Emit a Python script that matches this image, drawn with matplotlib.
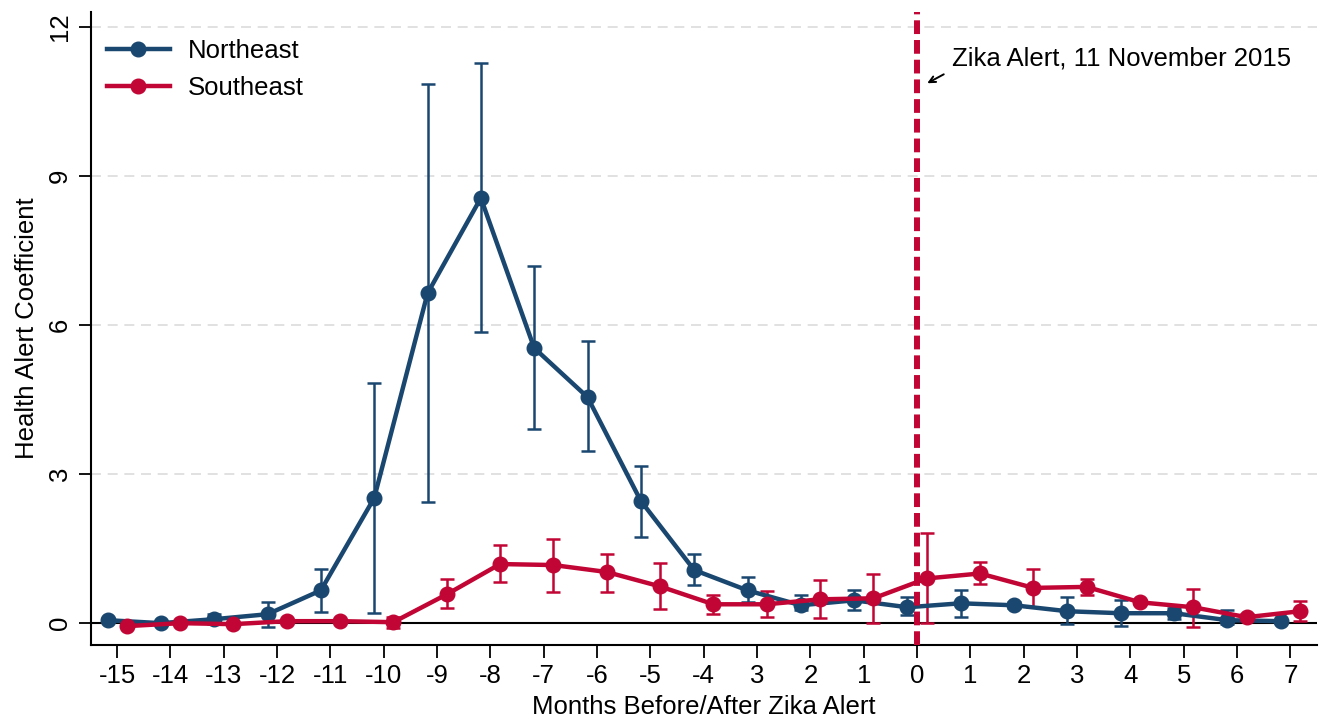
import matplotlib
matplotlib.use("Agg")
import matplotlib.pyplot as plt
import numpy as np

plt.rcParams['font.family'] = ['Liberation Sans', 'DejaVu Sans']

months = list(range(-15, 8))
tick_labels = ['-15', '-14', '-13', '-12', '-11', '-10', '-9', '-8', '-7', '-6',
               '-5', '-4', '3', '2', '1', '0', '1', '2', '3', '4', '5', '6', '7']

# coefficients and 95% bounds
ne_coef = [0.06, 0.00, 0.08, 0.18, 0.66, 2.52, 6.64, 8.56, 5.54, 4.55, 2.46, 1.07,
           0.66, 0.36, 0.46, 0.32, 0.40, 0.36, 0.24, 0.20, 0.20, 0.06, 0.04]
ne_low = [0.02, -0.03, -0.02, -0.08, 0.22, 0.20, 2.44, 5.86, 3.90, 3.46, 1.73, 0.77,
          0.42, 0.26, 0.26, 0.16, 0.12, 0.30, -0.02, -0.06, 0.08, -0.02, 0.01]
ne_high = [0.10, 0.03, 0.18, 0.42, 1.10, 4.83, 10.85, 11.27, 7.19, 5.68, 3.16, 1.39,
           0.93, 0.56, 0.66, 0.52, 0.66, 0.42, 0.52, 0.46, 0.30, 0.26, 0.07]

se_coef = [-0.06, 0.00, -0.02, 0.04, 0.04, 0.02, 0.58, 1.19, 1.17, 1.03, 0.74, 0.38,
           0.38, 0.48, 0.50, 0.90, 1.00, 0.71, 0.73, 0.42, 0.32, 0.12, 0.24]
se_low = [-0.08, -0.02, -0.04, 0.02, 0.02, -0.10, 0.30, 0.82, 0.62, 0.62, 0.28, 0.18,
          0.12, 0.10, 0.00, 0.00, 0.78, 0.32, 0.56, 0.38, -0.08, 0.06, 0.04]
se_high = [-0.04, 0.02, 0.00, 0.06, 0.06, 0.12, 0.88, 1.57, 1.69, 1.39, 1.21, 0.56,
           0.64, 0.87, 0.99, 1.81, 1.23, 1.10, 0.88, 0.46, 0.68, 0.18, 0.44]

navy = '#1a476f'
cranberry = '#c10534'
shift = 0.18
fs = 18.5

fig = plt.figure(figsize=(13.25, 7.19), dpi=100)
ax = fig.add_axes([0.0687, 0.1029, 0.9253, 0.8801])

x = np.array(months, dtype=float)

for y in [3, 6, 9, 12]:
    ax.axhline(y, color='#dcdcdc', lw=1.2, ls=(0, (6, 4)), zorder=0)
ax.axhline(0, color='black', lw=1.5, zorder=1)

for xs, coef, lo, hi, col, name in [
        (x - shift, ne_coef, ne_low, ne_high, navy, 'Northeast'),
        (x + shift, se_coef, se_low, se_high, cranberry, 'Southeast')]:
    coef = np.array(coef)
    yerr = [coef - np.array(lo), np.array(hi) - coef]
    ax.errorbar(xs, coef, yerr=yerr, fmt='none', ecolor=col, elinewidth=1.8,
                capsize=5, capthick=1.8, zorder=2)
    ax.plot(xs, coef, color=col, lw=3.2, marker='o', ms=10.5, label=name, zorder=3)

ax.axvline(0, color=cranberry, lw=4.3, ls=(0, (2.3, 1.0)), zorder=4)

# event note with a short pointer to the alert line
ax.text(0.66, 11.37, 'Zika Alert, 11 November 2015', fontsize=fs,
        va='center', ha='left')
ax.annotate('', xy=(0.19, 10.87), xytext=(0.50, 11.05),
            arrowprops=dict(arrowstyle='->,head_length=0.45,head_width=0.22',
                            color='black', lw=1.4, shrinkA=0, shrinkB=0))

ax.set_xlim(-15.49, 7.5)
ax.set_ylim(-0.44, 12.3)
ax.set_xticks(months)
ax.set_xticklabels(tick_labels)
ax.set_yticks([0, 3, 6, 9, 12])
ax.set_yticklabels(['0', '3', '6', '9', '12'], rotation=90, va='center')
ax.tick_params(axis='both', labelsize=fs, length=9, width=1.3, direction='out')
ax.tick_params(axis='x', pad=5)
ax.tick_params(axis='y', pad=5)

for side in ['top', 'right']:
    ax.spines[side].set_visible(False)
for side in ['left', 'bottom']:
    ax.spines[side].set_linewidth(1.5)

ax.set_xlabel('Months Before/After Zika Alert', fontsize=fs, labelpad=5)
ax.set_ylabel('Health Alert Coefficient', fontsize=fs, labelpad=6)

ax.legend(loc='upper left', frameon=False, fontsize=fs, handlelength=2.45,
          handletextpad=0.7, borderpad=0, borderaxespad=0,
          bbox_to_anchor=(0.013, 0.958), labelspacing=0.5)

fig.savefig('out.png', dpi=100)
